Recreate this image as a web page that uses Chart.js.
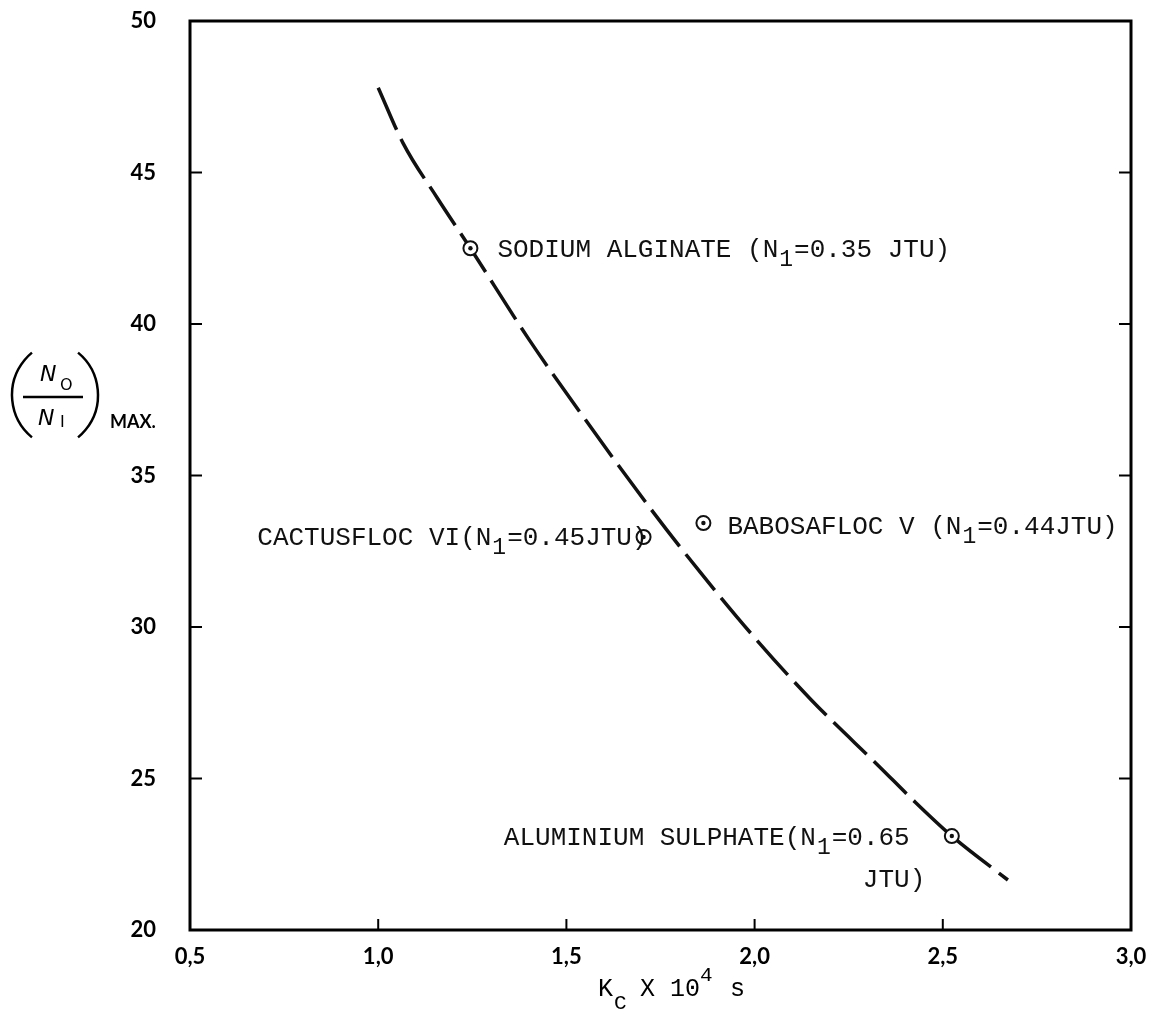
<!DOCTYPE html>
<html>
<head>
<meta charset="utf-8">
<script src="https://cdn.jsdelivr.net/npm/chart.js@4.4.1/dist/chart.umd.min.js"></script>
<style>
  body { margin: 0; background: #fff; }
  #wrap { width: 1171px; height: 1021px; position: relative; }
</style>
</head>
<body>
<div id="wrap"><canvas id="myChart"></canvas></div>
<script>
// curve
const kc = [1.00, 1.066, 1.157, 1.245, 1.40, 1.55, 1.73, 1.856, 2.00, 2.15, 2.335, 2.42, 2.524, 2.673];
const ratio = [47.8, 45.97, 44.16, 42.5, 39.5, 36.85, 33.8, 31.8, 29.65, 27.6, 25.35, 24.3, 23.1, 21.65];

// measured flocculants
const pointNames = ['SODIUM ALGINATE (N', 'CACTUSFLOC VI(N', 'BABOSAFLOC V (N', 'ALUMINIUM SULPHATE(N'];
const pointTail = ['=0.35 JTU)', '=0.45JTU)', '=0.44JTU)', '=0.65'];
const pointKc = [1.245, 1.705, 1.864, 2.524];
const pointRatio = [42.5, 32.97, 33.43, 23.1];

const xTicks = [0.5, 1.0, 1.5, 2.0, 2.5, 3.0];
const yTicks = [20, 25, 30, 35, 40, 45, 50];

const typeFont = '26px "Liberation Mono", "Courier New", monospace';
const subFont = '23px "Liberation Mono", "Courier New", monospace';

function drawLabel(ctx, x, y, head, tail, align) {
    ctx.font = typeFont;
    const w1 = ctx.measureText(head).width;
    ctx.font = subFont;
    const ws = ctx.measureText('1').width + 2;
    ctx.font = typeFont;
    const w2 = ctx.measureText(tail).width;
    let x0 = align === 'right' ? x - (w1 + ws + w2) : x;
    ctx.textAlign = 'left';
    ctx.textBaseline = 'middle';
    ctx.fillText(head, x0, y);
    ctx.font = subFont;
    ctx.fillText('1', x0 + w1 + 1, y + 10);
    ctx.font = typeFont;
    ctx.fillText(tail, x0 + w1 + ws, y);
}

const framePlugin = {
    id: 'frame',
    afterDatasetsDraw(chart) {
        const ctx = chart.ctx;
        const a = chart.chartArea;
        const xs = chart.scales.x, ys = chart.scales.y;
        ctx.save();
        ctx.strokeStyle = '#000';
        ctx.lineWidth = 3;
        ctx.strokeRect(a.left, a.top, a.right - a.left, a.bottom - a.top);
        ctx.lineWidth = 2;
        xTicks.slice(1, -1).forEach(v => {
            const px = xs.getPixelForValue(v);
            ctx.beginPath(); ctx.moveTo(px, a.bottom); ctx.lineTo(px, a.bottom - 11); ctx.stroke();
        });
        yTicks.slice(1, -1).forEach(v => {
            const py = ys.getPixelForValue(v);
            ctx.beginPath(); ctx.moveTo(a.left, py); ctx.lineTo(a.left + 12, py); ctx.stroke();
            ctx.beginPath(); ctx.moveTo(a.right, py); ctx.lineTo(a.right - 12, py); ctx.stroke();
        });

        // point labels
        ctx.fillStyle = '#111';
        const px = pointKc.map(v => xs.getPixelForValue(v));
        const py = pointRatio.map(v => ys.getPixelForValue(v));
        drawLabel(ctx, px[0] + 27, py[0] + 2, pointNames[0], pointTail[0], 'left');
        drawLabel(ctx, px[1] + 4, py[1] + 1, pointNames[1], pointTail[1], 'right');
        drawLabel(ctx, px[2] + 24, py[2] + 4, pointNames[2], pointTail[2], 'left');
        drawLabel(ctx, px[3] - 448, py[3] + 2, pointNames[3], pointTail[3], 'left');
        ctx.font = typeFont;
        ctx.fillText('JTU)', px[3] - 89, py[3] + 44);

        // x axis title
        ctx.fillStyle = '#000';
        ctx.textBaseline = 'alphabetic';
        ctx.font = '25px "Liberation Mono", monospace';
        ctx.fillText('K', 598, 996);
        ctx.font = '21px "Liberation Mono", monospace';
        ctx.fillText('C', 614, 1009);
        ctx.font = '25px "Liberation Mono", monospace';
        ctx.fillText('X 10', 640, 996);
        ctx.font = '21px "Liberation Mono", monospace';
        ctx.fillText('4', 700, 981);
        ctx.font = '25px "Liberation Mono", monospace';
        ctx.fillText('s', 730, 996);

        // y axis title: (N0 / N1) MAX.
        ctx.lineWidth = 2.5;
        ctx.beginPath(); ctx.arc(67, 395, 55, Math.PI - 0.88, Math.PI + 0.88); ctx.stroke();
        ctx.beginPath(); ctx.arc(43, 395, 55, -0.88, 0.88); ctx.stroke();
        ctx.beginPath(); ctx.moveTo(23, 397); ctx.lineTo(83, 397); ctx.stroke();
        ctx.font = 'italic 22px "DejaVu Sans", sans-serif';
        ctx.fillText('N', 40, 381);
        ctx.fillText('N', 38, 425);
        ctx.font = '16px "DejaVu Sans", sans-serif';
        ctx.fillText('O', 60, 390);
        ctx.fillText('I', 60, 427);
        ctx.font = 'bold 18px "Lato", sans-serif';
        ctx.fillText('MAX.', 110, 428);
        ctx.restore();
    }
};

const tickFont = { family: 'Lato, sans-serif', size: 22, weight: 'bold' };

const config = {
    type: 'scatter',
    data: {
        datasets: [{
            type: 'line',
            order: 3,
            data: kc.map((v, i) => ({ x: v, y: ratio[i] })),
            borderColor: '#111',
            borderWidth: 3.5,
            borderDash: [46, 10],
            pointRadius: 0,
            cubicInterpolationMode: 'monotone',
            fill: false
        }, {
            order: 2,
            data: pointKc.map((v, i) => ({ x: v, y: pointRatio[i] })),
            pointRadius: 7,
            pointBorderWidth: 2,
            pointBorderColor: '#111',
            pointBackgroundColor: '#fff'
        }, {
            order: 1,
            data: pointKc.map((v, i) => ({ x: v, y: pointRatio[i] })),
            pointRadius: 2.2,
            pointBorderWidth: 0,
            pointBackgroundColor: '#111'
        }]
    },
    options: {
        responsive: true,
        maintainAspectRatio: false,
        animation: false,
        layout: { padding: { top: 21, right: 40, left: 0, bottom: 0 } },
        plugins: { legend: { display: false }, tooltip: { enabled: false } },
        scales: {
            x: {
                type: 'linear',
                min: 0.5, max: 3.0,
                afterBuildTicks: s => { s.ticks = xTicks.map(v => ({ value: v })); },
                afterFit: s => { s.height = 91; s.paddingLeft = 0; s.paddingRight = 0; },
                grid: { display: false },
                border: { display: false },
                ticks: {
                    color: '#000',
                    padding: 6,
                    font: tickFont,
                    callback: v => v.toFixed(1).replace('.', ',')
                }
            },
            y: {
                type: 'linear',
                min: 20, max: 50,
                afterBuildTicks: s => { s.ticks = yTicks.map(v => ({ value: v })); },
                afterFit: s => { s.width = 190; s.paddingTop = 0; s.paddingBottom = 0; },
                grid: { display: false },
                border: { display: false },
                ticks: {
                    color: '#000',
                    padding: 26,
                    font: tickFont
                }
            }
        }
    },
    plugins: [framePlugin]
};

var myChart = new Chart(document.getElementById('myChart'), config);
</script>
</body>
</html>
